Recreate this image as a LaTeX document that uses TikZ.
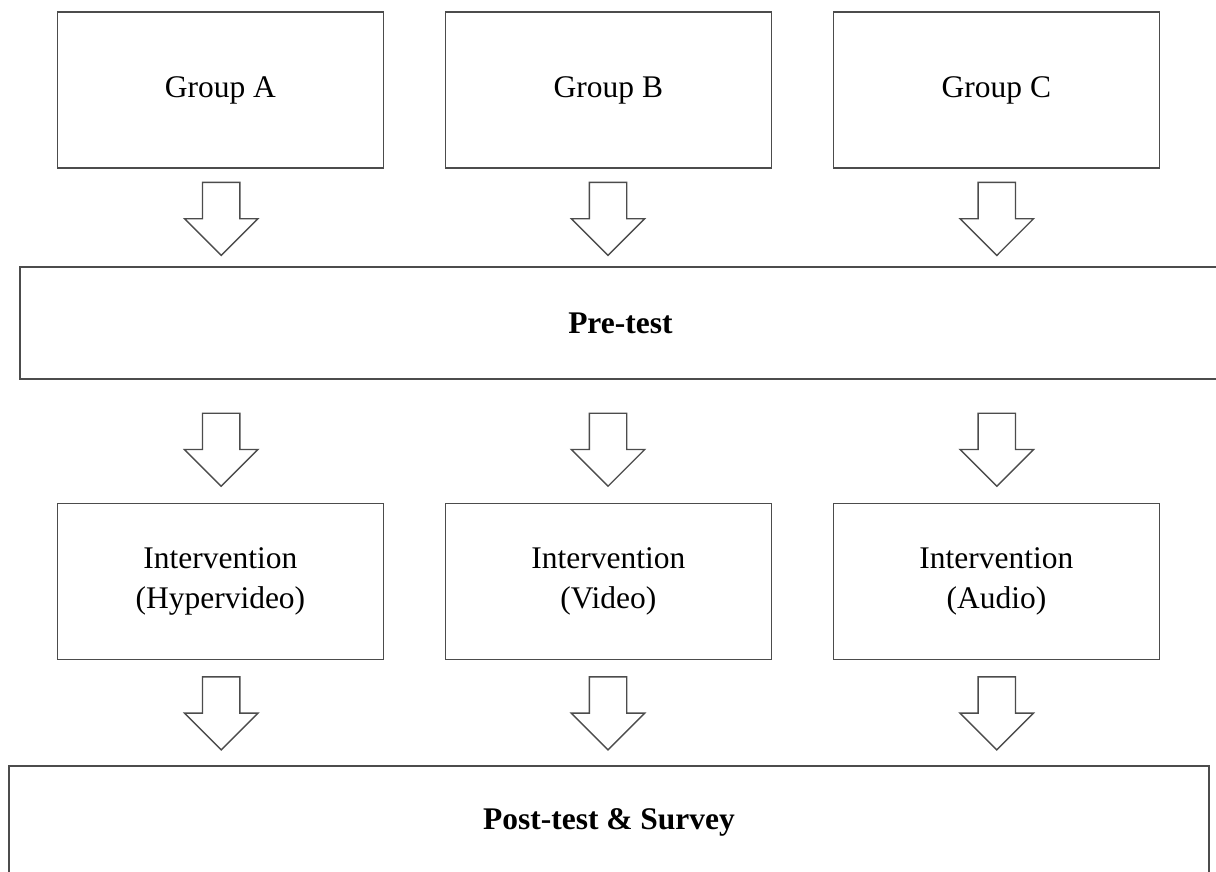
\documentclass[tikz,border=0pt]{standalone}
\usepackage{fontspec}
\setmainfont{Liberation Serif}
\usetikzlibrary{shapes.arrows}
\tikzset{
  box/.style={rectangle,draw=black!70,fill=white,line width=1.1pt,minimum width=8.15cm,minimum height=3.9cm,inner sep=0pt,align=center,font=\fontsize{22.4}{28.5}\selectfont},
  bar/.style={box,minimum width=30cm,minimum height=2.8cm,font=\fontsize{22.4}{28.5}\selectfont\bfseries},
  dn/.style={single arrow,draw=black!70,fill=white,line width=1pt,rotate=-90,inner xsep=0pt,inner ysep=.45cm,
    minimum height=1.825cm,minimum width=1.8cm,single arrow head extend=.45cm,single arrow tip angle=90,single arrow head indent=0pt},
}
\begin{document}
\begin{tikzpicture}
\useasboundingbox (0,0) rectangle (30.4,21.8);
\fill[white] (0,0) rectangle (30.4,21.8);
\clip (0,0) rectangle (30.4,21.8);
% ============================= groups
\node[box] (gA) at (5.51,19.55) {Group A};
\node[box] (gB) at (15.21,19.55) {Group B};
\node[box] (gC) at (24.91,19.55) {Group C};
\node[dn] (dA1) at (5.53,16.56) {};
\node[dn] (dB1) at (15.2,16.56) {};
\node[dn] (dC1) at (24.92,16.56) {};
% ============================= pre-test
\node[bar,minimum width=30.03cm] (pre) at (15.51,13.725) {Pre-test};
\node[dn] (dA2) at (5.53,10.79) {};
\node[dn] (dB2) at (15.2,10.79) {};
\node[dn] (dC2) at (24.92,10.79) {};
% ============================= interventions
\node[box] (iA) at (5.51,7.26) {Intervention\\(Hypervideo)};
\node[box] (iB) at (15.21,7.26) {Intervention\\(Video)};
\node[box] (iC) at (24.91,7.26) {Intervention\\(Audio)};
\node[dn] (dA3) at (5.53,4.2) {};
\node[dn] (dB3) at (15.2,4.2) {};
\node[dn] (dC3) at (24.92,4.2) {};
% ============================= post-test
\node[bar] (post) at (15.225,1.25) {Post-test \& Survey};
\end{tikzpicture}
\end{document}
